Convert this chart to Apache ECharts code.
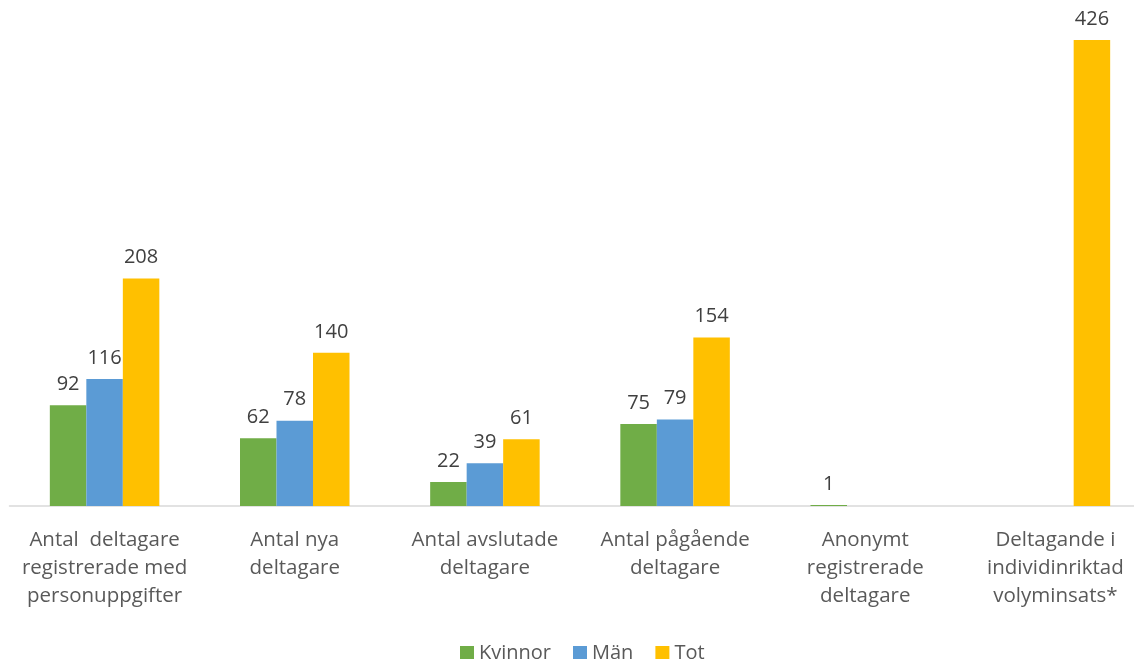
<!DOCTYPE html>
<html><head><meta charset="utf-8">
<script src="https://cdn.jsdelivr.net/npm/echarts@6/dist/echarts.min.js"></script>
<style>html,body{margin:0;padding:0;background:#fff;overflow:hidden}#c{width:1160px;height:659px}</style>
</head><body><div id="c"></div>
<script>
const categories = ["Antal  deltagare\nregistrerade med\npersonuppgifter","Antal nya\ndeltagare","Antal avslutade\ndeltagare","Antal pågående\ndeltagare","Anonymt\nregistrerade\ndeltagare","Deltagande i\nindividinriktad\nvolyminsats*"];
const kvinnor = [92, 62, 22, 75, 1, null];
const man = [116, 78, 39, 79, null, null];
const tot = [208, 140, 61, 154, null, 426];
const FONT = "Open Sans";
const chart = echarts.init(document.getElementById('c'));
const lbl = {show:true, position:'top', distance:11, color:'#404040', fontSize:20, fontFamily:FONT};
chart.setOption({
  animation:false,
  textStyle:{fontFamily:FONT},
  grid:{left:9.5, width:1141, top:13.7, bottom:153, containLabel:false},
  legend:{top:638, left:455, itemWidth:14, itemHeight:14, itemGap:22, icon:'rect',
    textStyle:{fontSize:20, color:'#595959', fontFamily:FONT}, data:['Kvinnor','Män','Tot']},
  xAxis:{type:'category', data:categories,
    axisLine:{lineStyle:{color:'#d9d9d9', width:1.5}}, axisTick:{show:false},
    axisLabel:{interval:0, fontSize:20.5, color:'#595959', lineHeight:28, margin:20, fontFamily:FONT}},
  yAxis:{type:'value', min:0, max:450, show:false, splitLine:{show:false}},
  series:[
    {name:'Kvinnor', type:'bar', data:kvinnor, barWidth:36.5, barGap:'0%', itemStyle:{color:'#70AD47'}, label:lbl},
    {name:'Män', type:'bar', data:man, barWidth:36.5, barGap:'0%', itemStyle:{color:'#5B9BD5'}, label:lbl},
    {name:'Tot', type:'bar', data:tot, barWidth:36.5, barGap:'0%', itemStyle:{color:'#FFC000'}, label:lbl}
  ]
});
</script></body></html>
